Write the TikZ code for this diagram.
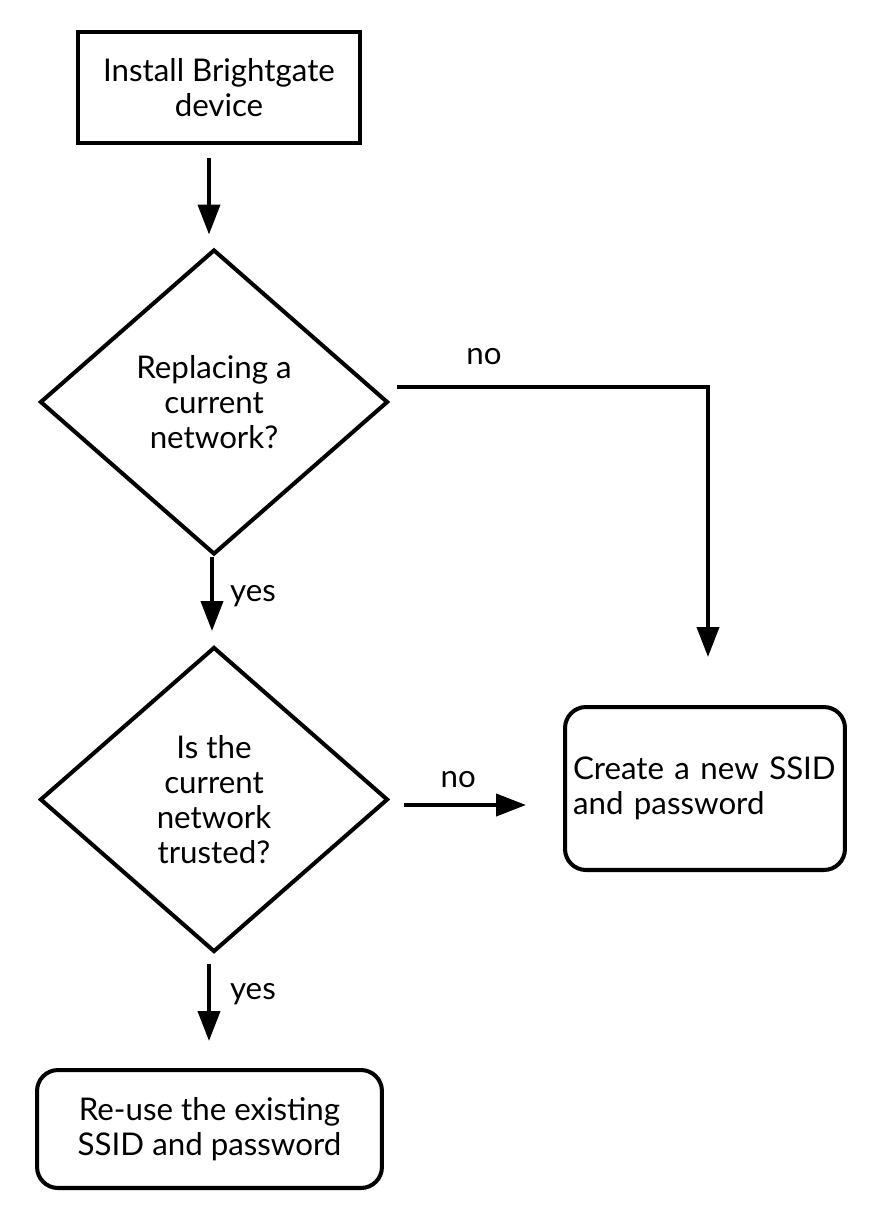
\documentclass[tikz,border=0pt]{standalone}
\usepackage{fontspec}
\setmainfont{Lato}
\usetikzlibrary{shapes.geometric,arrows.meta}

\tikzset{
  every node/.style={font=\fontsize{17.8}{19.8}\selectfont},
  stepbox/.style={draw,line width=2.3pt,align=center,inner sep=0pt},
  endbox/.style={stepbox,rounded corners=0.42cm},
  decision/.style={diamond,draw,line width=2.3pt,align=center,inner sep=0pt,
    minimum width=6.96cm,minimum height=6.1cm},
  arr/.style={line width=2.3pt,-{Triangle[length=0.6cm,width=0.44cm]}},
  lbl/.style={inner sep=0pt}
}

\begin{document}
\begin{tikzpicture}[x=0.02cm,y=-0.02cm]
\useasboundingbox (0,0) rectangle (872,1215);

\node[stepbox,minimum width=5.64cm,minimum height=2.22cm] (install) at (219,87.5)
  {Install Brightgate\\device};
\node[decision] (replace) at (214,402) {Replacing a\\current\\network?};
\node[decision] (trusted) at (214,799.5) {Is the\\current\\network\\trusted?};
\node[endbox,minimum width=5.6cm,minimum height=3.26cm,
  text width=5.28cm,align=left] (create) at (705,788.5)
  {Create a new SSID\\and password\\[0.25cm]};
\node[endbox,minimum width=6.9cm,minimum height=2.36cm] (reuse) at (209.5,1129)
  {Re-use the existing\\SSID and password};

\draw[arr,shorten <=0.26cm,shorten >=0.26cm]
  ([xshift=-0.1cm]install.south -| replace.north) -- ([xshift=-0.1cm]replace.north);
\draw[arr,shorten >=0.96cm]
  ([shift={(0.14cm,0.3cm)}]replace.east) -| ([xshift=0.06cm]create.north)
  node[lbl,pos=0.14,above=0.4cm] {no};
\draw[arr,shorten >=0.28cm]
  ([xshift=-0.04cm]replace.south) -- ([xshift=-0.04cm]trusted.north)
  node[lbl,pos=0.45,anchor=west,xshift=0.32cm] {yes};
\draw[arr,shorten <=0.28cm,shorten >=0.74cm]
  ([yshift=-0.11cm]trusted.east) -- ([yshift=-0.11cm]trusted.east -| create.west)
  node[lbl,pos=0.395,above=0.3cm] {no};
\draw[arr,shorten <=0.2cm,shorten >=0.54cm]
  ([xshift=-0.1cm]trusted.south) -- ([xshift=-0.1cm]trusted.south |- reuse.north)
  node[lbl,pos=0.35,anchor=west,xshift=0.38cm] {yes};
\end{tikzpicture}
\end{document}
